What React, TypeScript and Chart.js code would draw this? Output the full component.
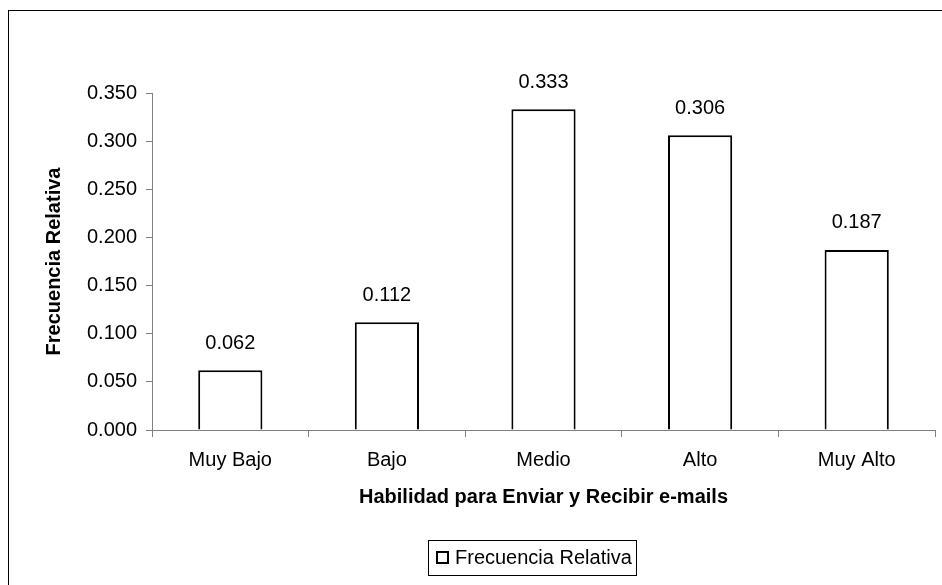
import React, { useEffect, useRef } from "react";
import { Chart, registerables } from "chart.js";

Chart.register(...registerables);

const categories = ["Muy Bajo", "Bajo", "Medio", "Alto", "Muy Alto"];
const frecuenciaRelativa = [0.062, 0.112, 0.333, 0.306, 0.187];
const seriesLabel = "Frecuencia Relativa";
const xTitle = "Habilidad para Enviar y Recibir e-mails";
const yTitle = "Frecuencia Relativa";
const yMin = 0;
const yMax = 0.35;
const yStep = 0.05;

const FONT = "'Liberation Sans', Arial, sans-serif";

const dataLabelPlugin = {
  id: "dataLabels",
  afterDatasetsDraw(chart: any) {
    const ctx = chart.ctx;
    ctx.save();
    ctx.font = `20px ${FONT}`;
    ctx.fillStyle = "#000";
    ctx.textAlign = "center";
    ctx.textBaseline = "middle";
    chart.data.datasets.forEach((ds: any, di: number) => {
      const meta = chart.getDatasetMeta(di);
      meta.data.forEach((el: any, i: number) => {
        const v = ds.data[i] as number;
        ctx.fillText(v.toFixed(3), el.x, el.y - 27);
      });
    });
    ctx.restore();
  },
};

const legendBoxPlugin = {
  id: "legendBox",
  afterDraw(chart: any) {
    const ctx = chart.ctx;
    ctx.save();
    const bx = 419.5, by = 529.5, bw = 208, bh = 35;
    ctx.fillStyle = "#fff";
    ctx.fillRect(bx, by, bw, bh);
    ctx.strokeStyle = "#000";
    ctx.lineWidth = 1;
    ctx.strokeRect(bx, by, bw, bh);
    ctx.lineWidth = 2;
    ctx.strokeRect(428, 541, 11, 11);
    ctx.font = `20px ${FONT}`;
    ctx.fillStyle = "#000";
    ctx.textAlign = "left";
    ctx.textBaseline = "middle";
    ctx.fillText(chart.data.datasets[0].label, 446, 547);
    ctx.restore();
  },
};

export default function App() {
  const ref = useRef<HTMLCanvasElement | null>(null);

  useEffect(() => {
    if (!ref.current) return;
    const chart = new Chart(ref.current, {
      type: "bar",
      data: {
        labels: categories,
        datasets: [
          {
            label: seriesLabel,
            data: frecuenciaRelativa,
            backgroundColor: "#ffffff",
            borderColor: "#000000",
            borderWidth: 2,
            barPercentage: 0.41,
            categoryPercentage: 1,
          },
        ],
      },
      options: {
        animation: false,
        responsive: false,
        devicePixelRatio: 1,
        layout: { padding: { left: 0, right: 7, top: 82, bottom: 0 } },
        plugins: {
          legend: { display: false },
          tooltip: { enabled: false },
        },
        scales: {
          x: {
            offset: true,
            grid: {
              offset: true,
              drawOnChartArea: false,
              drawTicks: true,
              tickLength: 7,
              color: "#808080",
            },
            border: { display: true, color: "#808080", width: 1 },
            ticks: {
              color: "#000",
              font: { family: FONT, size: 20 },
              padding: 11,
              maxRotation: 0,
              autoSkip: false,
            },
            title: {
              display: true,
              text: xTitle,
              color: "#000",
              font: { family: FONT, size: 20, weight: "bold" },
              padding: { top: 0, bottom: 76 },
            },
            afterFit(scale: any) {
              scale.height = 155;
            },
          },
          y: {
            min: yMin,
            max: yMax,
            grid: {
              drawOnChartArea: false,
              drawTicks: true,
              tickLength: 6,
              color: "#808080",
            },
            border: { display: true, color: "#808080", width: 1 },
            ticks: {
              stepSize: yStep,
              color: "#000",
              font: { family: FONT, size: 20 },
              padding: 9,
              callback: (v: any) => Number(v).toFixed(3),
            },
            title: {
              display: true,
              text: yTitle,
              color: "#000",
              font: { family: FONT, size: 20, weight: "bold" },
              padding: { top: 33, bottom: 0 },
            },
            afterFit(scale: any) {
              scale.width = 143;
            },
          },
        },
      },
      plugins: [dataLabelPlugin, legendBoxPlugin],
    });
    return () => chart.destroy();
  }, []);

  return (
    <div
      style={{
        position: "fixed",
        left: 8,
        top: 10,
        width: 934,
        height: 575,
        boxSizing: "border-box",
        borderLeft: "1px solid #000",
        borderTop: "1px solid #000",
        background: "#fff",
      }}
    >
      <canvas ref={ref} width={933} height={574} style={{ display: "block" }} />
    </div>
  );
}
